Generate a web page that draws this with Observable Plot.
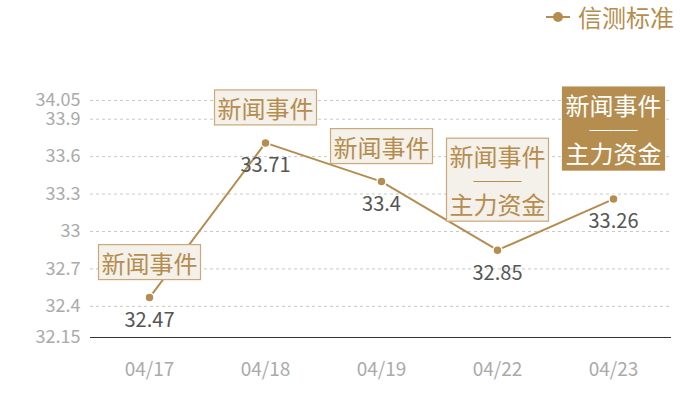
<!DOCTYPE html>
<html>
<head>
<meta charset="utf-8">
<script src="https://cdn.jsdelivr.net/npm/d3@7"></script>
<script src="https://cdn.jsdelivr.net/npm/@observablehq/plot@0.6"></script>
<style>
  html, body { margin: 0; padding: 0; background: #fff; }
  #wrap { position: relative; width: 700px; height: 400px; font-family: "Noto Sans CJK SC", "Noto Sans", sans-serif; }
  #legend { position: absolute; top: 0px; right: 26px; display: flex; align-items: center; color: #b58d4f; font-size: 24px; line-height: 34px; }
  #legend svg { margin-right: 6px; }
</style>
</head>
<body>
<div id="wrap">
  <div id="legend"></div>
  <div id="chart"></div>
</div>
<script>
const dates = ["04/17", "04/18", "04/19", "04/22", "04/23"];
const values = [32.47, 33.71, 33.4, 32.85, 33.26];
const annotations = ["新闻事件", "新闻事件", "新闻事件", "新闻事件\n──\n主力资金", "新闻事件\n──\n主力资金"];
const highlighted = [false, false, false, false, true];
const yTicks = [32.15, 32.4, 32.7, 33, 33.3, 33.6, 33.9, 34.05];
const seriesName = "信测标准";

const gold = "#b58d4f";
const data = dates.map((d, i) => ({date: d, value: values[i], note: annotations[i], hi: highlighted[i]}));
const single = data.filter(d => !d.note.includes("\n"));
const multi = data.filter(d => d.note.includes("\n"));

// legend
document.getElementById("legend").innerHTML =
  `<svg width="26" height="14"><line x1="0" y1="7" x2="24" y2="7" stroke="${gold}" stroke-width="2"/><circle cx="12" cy="7" r="5" fill="${gold}"/></svg><span>${seriesName}</span>`;

const font = '"Noto Sans CJK SC", "Noto Sans", sans-serif';

const chart = Plot.plot({
  width: 700,
  height: 400,
  marginLeft: 90,
  marginRight: 29,
  marginTop: 100,
  marginBottom: 63,
  style: {fontFamily: font, background: "transparent", overflow: "visible"},
  x: {type: "point", domain: dates, padding: 0.5, label: null},
  y: {domain: [32.15, 34.05], label: null},
  marks: [
    Plot.gridY(yTicks.filter(t => t !== 32.15), {stroke: "#c8c8c8", strokeOpacity: 1, strokeDasharray: "3,3"}),
    Plot.ruleY([32.15], {stroke: "#333", strokeWidth: 1.2}),
    Plot.axisY(yTicks, {tickSize: 0, tickPadding: 10, fontSize: 18, color: "#aaa", tickFormat: d => String(d), label: null}),
    Plot.axisX({tickSize: 0, tickPadding: 25, fontSize: 19, color: "#aaa", label: null}),
    Plot.line(data, {x: "date", y: "value", stroke: gold, strokeWidth: 2}),
    Plot.dot(data, {x: "date", y: "value", r: 4.5, fill: gold, stroke: "#fff", strokeWidth: 1.5}),
    Plot.text(data, {x: "date", y: "value", text: d => String(d.value), dy: 23, fill: "#555", fontSize: 20}),
    Plot.text(single, {x: "date", y: "value", text: "note", lineAnchor: "bottom", lineHeight: 1, dy: -25, fontSize: 24, fill: d => d.hi ? "#fff" : gold}),
    Plot.text(multi, {x: "date", y: "value", text: "note", lineAnchor: "bottom", lineHeight: 1, dy: -36, fontSize: 24, fill: d => d.hi ? "#fff" : gold})
  ]
});

document.getElementById("chart").appendChild(chart);

// draw boxes behind the annotation texts
const textGroups = chart.querySelectorAll('g[aria-label="text"]');
for (let gi = 1; gi < textGroups.length; gi++) {
  const g = textGroups[gi];
  g.querySelectorAll("text").forEach(t => {
    const b = t.getBBox();
    const fill = t.getAttribute("fill") || g.getAttribute("fill") || "";
    const hi = fill.toLowerCase() === "#fff" || fill.toLowerCase() === "#ffffff" || fill === "white";
    const r = document.createElementNS("http://www.w3.org/2000/svg", "rect");
    r.setAttribute("x", b.x - 3);
    r.setAttribute("y", b.y);
    r.setAttribute("width", b.width + 6);
    r.setAttribute("height", b.height);
    r.setAttribute("fill", hi ? gold : "#f4f0ea");
    r.setAttribute("stroke", hi ? gold : "#c9a978");
    r.setAttribute("stroke-width", 1.2);
    const tr = t.getAttribute("transform");
    if (tr) r.setAttribute("transform", tr);
    g.insertBefore(r, t);
  });
}
</script>
</body>
</html>
